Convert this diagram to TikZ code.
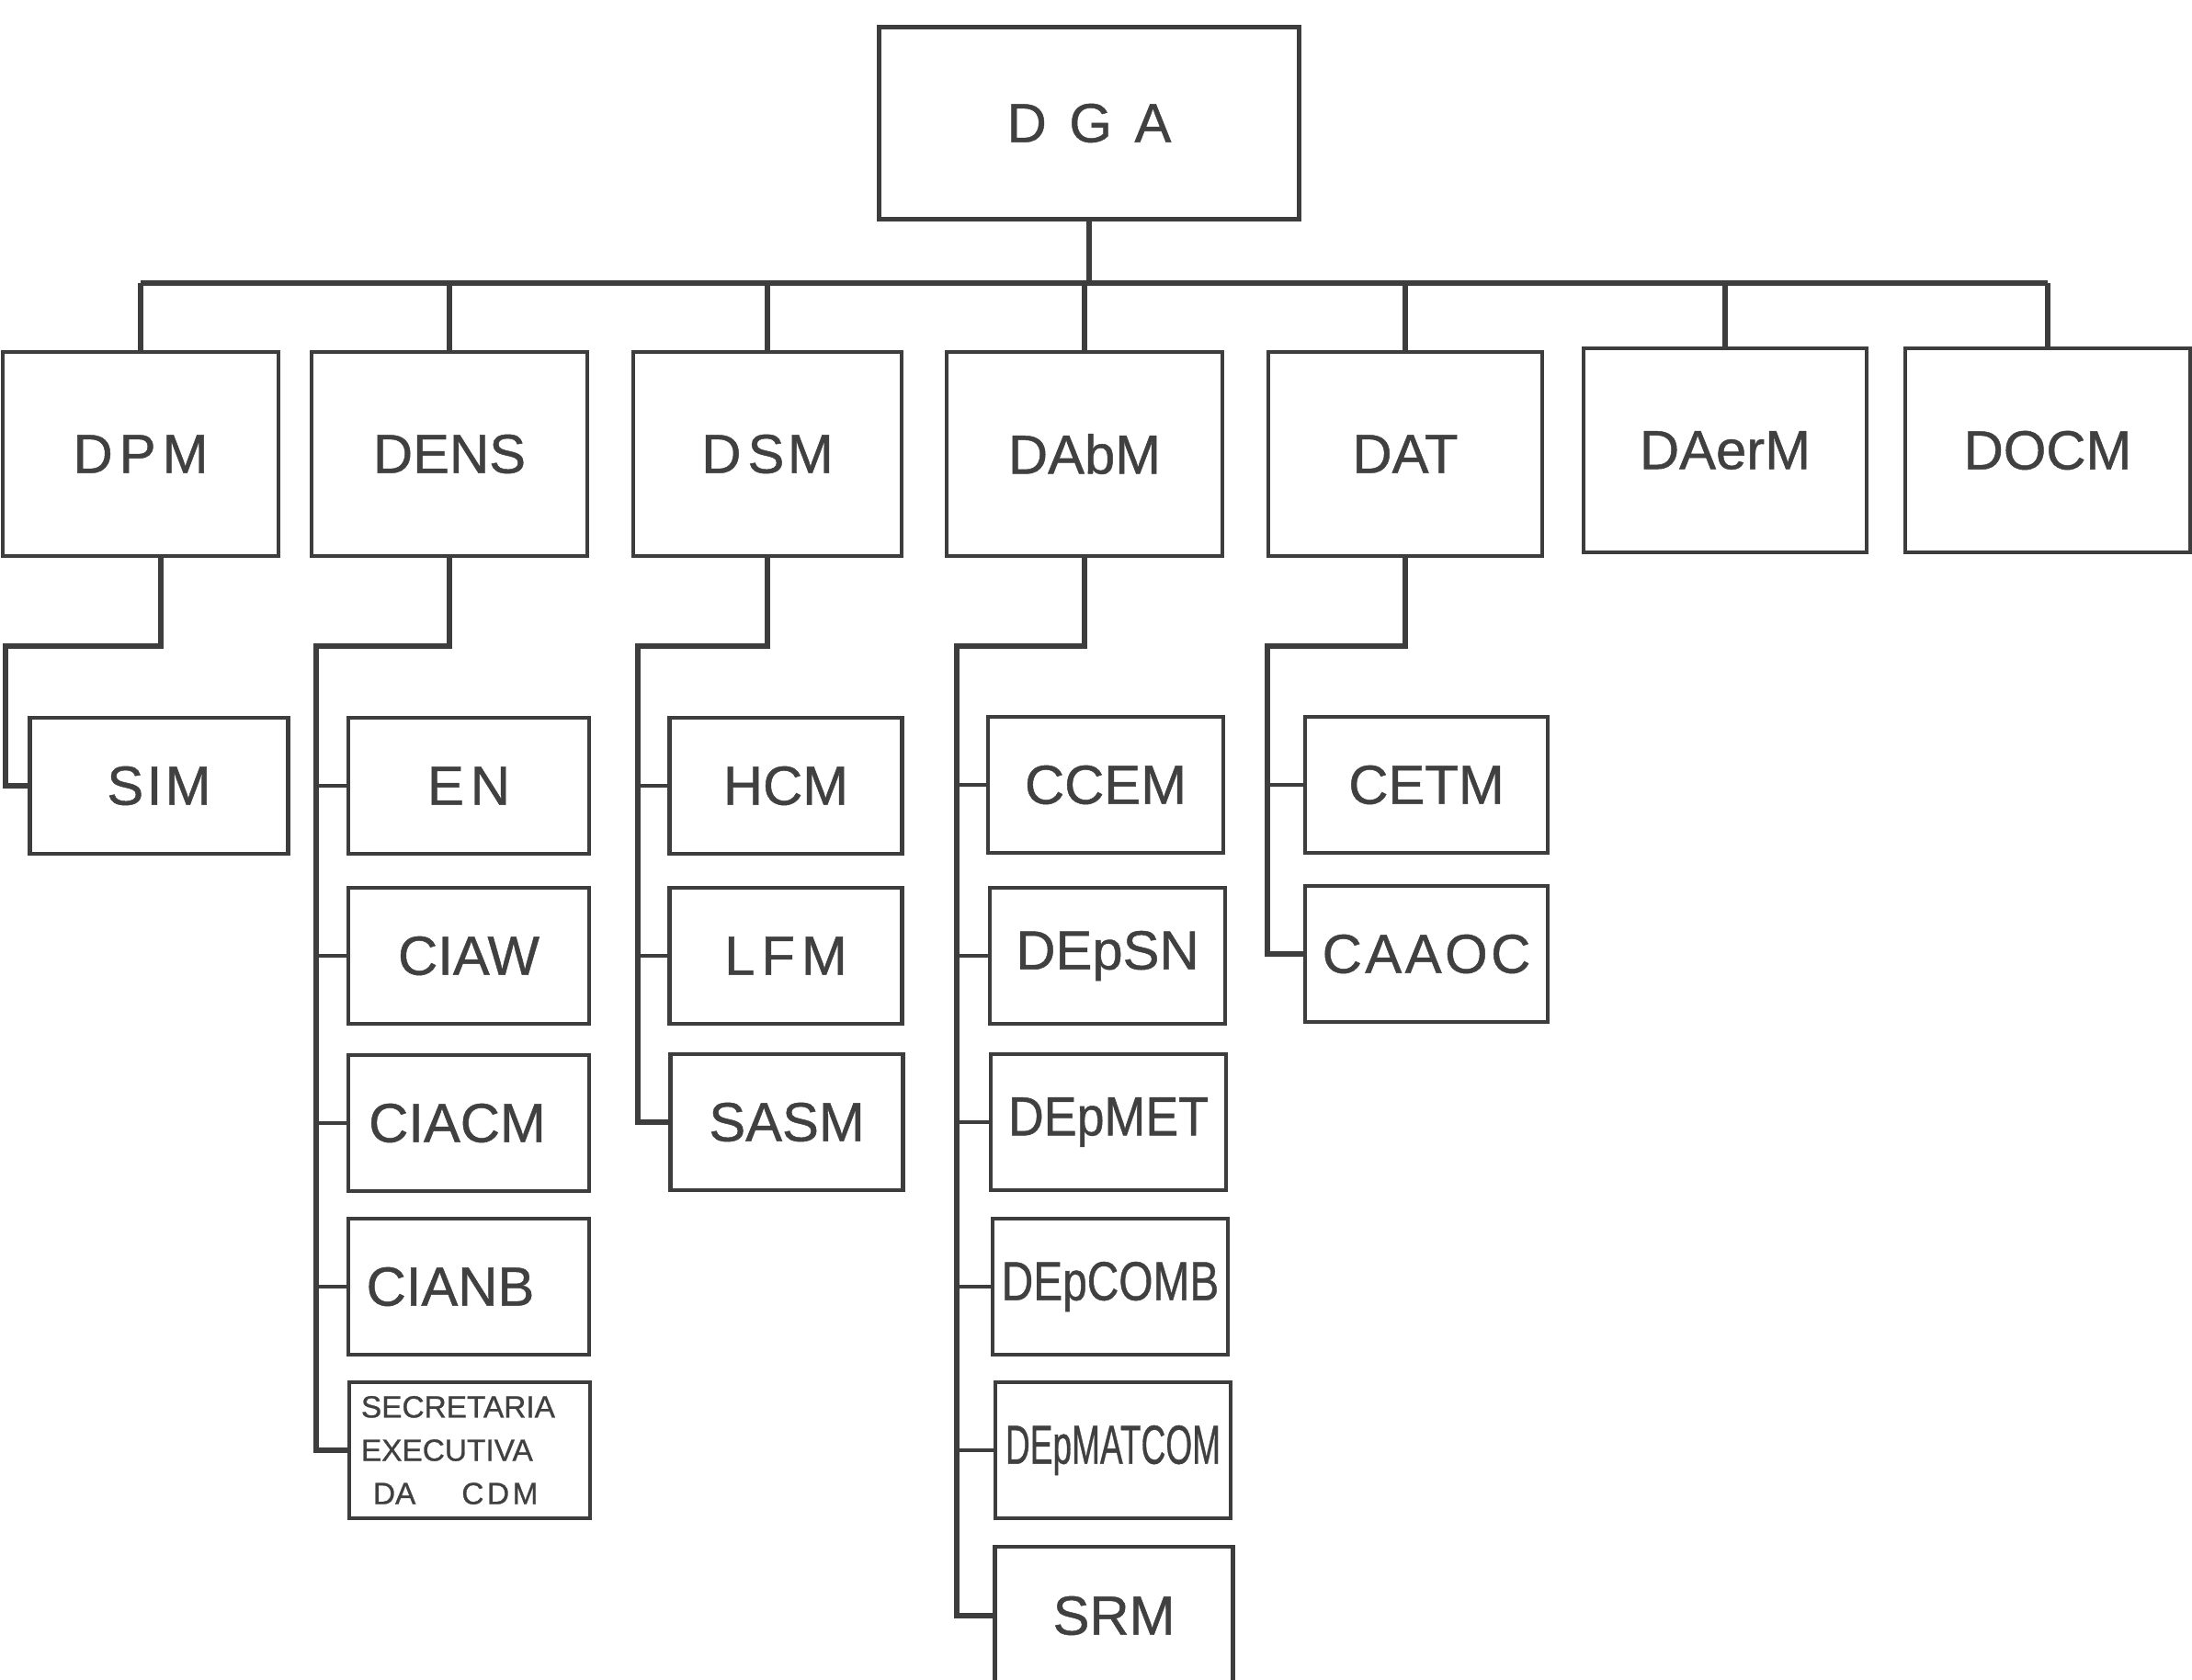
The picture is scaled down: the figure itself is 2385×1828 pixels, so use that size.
\documentclass[tikz,border=0pt]{standalone}
\usepackage{fontspec}
\setmainfont[FakeBold=0.8]{Liberation Sans}
\usepackage{graphicx}
\definecolor{ink}{gray}{0.24}
\definecolor{txt}{gray}{0.25}
\begin{document}
\begin{tikzpicture}[x=0.01cm,y=-0.01cm,
  box/.style={draw=ink,line width=1.3pt,minimum width=3cm,minimum height=2.22cm,inner sep=0pt,font=\fontsize{17}{20}\selectfont,text=txt},
  sbox/.style={draw=ink,line width=1.3pt,minimum width=2.58cm,minimum height=1.48cm,inner sep=0pt,font=\fontsize{17}{20}\selectfont,text=txt},
  conn/.style={draw=ink,line width=1.7pt,line join=miter},
  tick/.style={draw=ink,line width=1.1pt}]
\useasboundingbox[fill=white] (0,0) rectangle (2385,1828);
% top
\node[box,minimum width=4.57cm,minimum height=2.09cm] (dga) at (1185,134) {D\kern7pt G\kern7pt A};
% level 2
\node[box,minimum width=3.0cm] (dpm) at (153,494) {D\kern2pt P\kern2pt M};
\node[box] (dens) at (489,494) {DENS};
\node[box,minimum width=2.92cm] (dsm) at (835,494) {D\kern2pt S\kern1pt M};
\node[box] (dabm) at (1180,494) {DAbM};
\node[box,minimum width=2.98cm] (dat) at (1529,494) {DAT};
\node[box,minimum width=3.08cm] (daerm) at (1877,490) {DAerM};
\node[box,minimum width=3.1cm] (docm) at (2228,490) {DOCM};
% level 3: DPM
\node[sbox,minimum width=2.81cm] (sim) at (173,855) {S\kern1pt I\kern1pt M};
% DENS
\node[sbox,minimum width=2.62cm] (en) at (510,855) {E\kern2pt N};
\node[sbox,minimum width=2.62cm] (ciaw) at (510,1040) {CIAW};
\node[sbox,minimum width=2.62cm] (ciacm) at (510,1222) {\kern-0.25cm CIACM};
\node[sbox,minimum width=2.62cm] (cianb) at (510,1400) {\kern-0.4cm CIANB};
\node[sbox,minimum width=2.62cm,align=left,text width=2.36cm,inner sep=0.13cm,
  font=\fontsize{9.5}{13.4}\selectfont] (sec) at (511,1578)
  {SECRETARIA\\EXECUTIVA\\\hspace*{0.13cm}DA\hspace{0.5cm}C\kern1pt D\kern1pt M};
% DSM
\node[sbox,minimum width=2.53cm] (hcm) at (855,855) {HCM};
\node[sbox,minimum width=2.53cm] (lfm) at (855,1040) {L\kern2pt F\kern2pt M};
\node[sbox,minimum width=2.53cm] (sasm) at (856,1221) {SASM};
% DAbM
\node[sbox,minimum width=2.56cm] (ccem) at (1203,854) {CCEM};
\node[sbox,minimum width=2.56cm] (depsn) at (1205,1040) {DEpSN};
\node[sbox,minimum width=2.56cm] (depmet) at (1206,1221) {\scalebox{0.9}[1]{DEpMET}};
\node[sbox,minimum width=2.56cm] (depcomb) at (1208,1400) {\scalebox{0.8}[1]{DEpCOMB}};
\node[sbox,minimum width=2.56cm] (depmatcom) at (1211,1578) {\scalebox{0.62}[1]{DEpMATCOM}};
\node[sbox,minimum width=2.59cm,minimum height=1.5cm] (srm) at (1212,1758) {SRM};
% DAT
\node[sbox,minimum width=2.64cm] (cetm) at (1552,854) {CETM};
\node[sbox,minimum width=2.64cm] (caaoc) at (1552,1038) {C\kern1pt A\kern1pt A\kern1pt O\kern1pt C};
% connectors top
\coordinate (bus) at (0,308);
\draw[conn] (dga.south) -- (dga.south |- bus);
\draw[conn] (dpm.north |- bus) -- (docm.north |- bus);
\foreach \n in {dpm,dens,dsm,dabm,dat,daerm,docm}
  \draw[conn] (\n.north |- bus) -- (\n.north);
% DPM
\coordinate (s1) at (6,703);
\draw[conn] ([xshift=0.22cm]dpm.south) |- (s1) |- (sim.west);
% DENS
\coordinate (s2) at (344,703);
\draw[conn] (dens.south) |- (s2) |- (sec.west);
\foreach \n in {en,ciaw,ciacm,cianb}
  \draw[tick] (s2 |- \n.west) -- (\n.west);
% DSM
\coordinate (s3) at (694,703);
\draw[conn] (dsm.south) |- (s3) |- (sasm.west);
\foreach \n in {hcm,lfm}
  \draw[tick] (s3 |- \n.west) -- (\n.west);
% DAbM
\coordinate (s4) at (1041,703);
\draw[conn] (dabm.south) |- (s4) |- (srm.west);
\foreach \n in {ccem,depsn,depmet,depcomb,depmatcom}
  \draw[tick] (s4 |- \n.west) -- (\n.west);
% DAT
\coordinate (s5) at (1379,703);
\draw[conn] (dat.south) |- (s5) |- (caaoc.west);
\draw[tick] (s5 |- cetm.west) -- (cetm.west);
\end{tikzpicture}
\end{document}
